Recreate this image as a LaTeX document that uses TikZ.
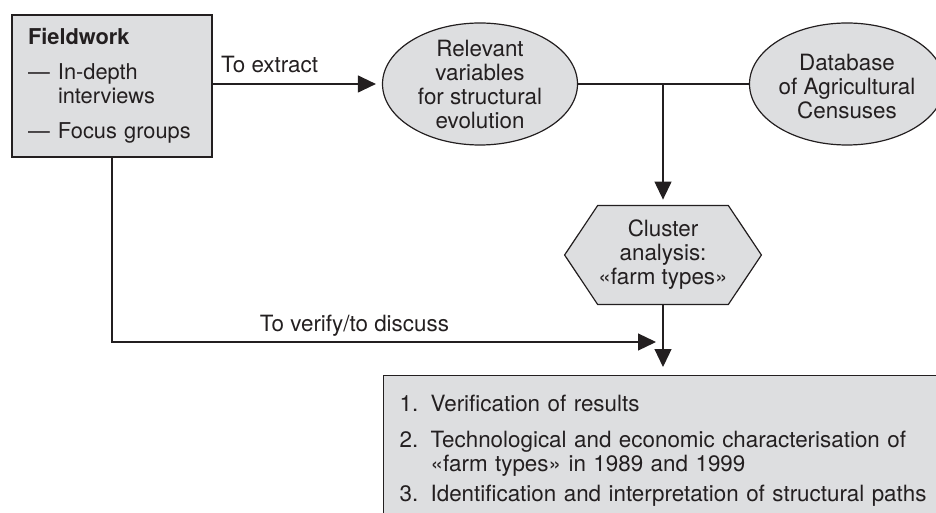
\documentclass[tikz,border=0pt]{standalone}
\usepackage{fontspec}
\setmainfont{TeX Gyre Heros}
\usetikzlibrary{arrows.meta,shapes.geometric,backgrounds}
\definecolor{boxgray}{RGB}{221,222,224}
\definecolor{inkgray}{RGB}{35,31,32}

\begin{document}
\begin{tikzpicture}[x=0.5pt,y=-0.5pt,
  font=\fontsize{11.2pt}{12pt}\selectfont,text=inkgray,
  every node/.style={inner sep=0pt},
  boxnode/.style={draw=inkgray,line width=0.6pt,fill=boxgray},
  oval/.style={boxnode,ellipse,minimum width=97.5pt,minimum height=61pt},
  link/.style={draw=inkgray,line width=0.6pt},
  arrowlink/.style={link,-{Triangle[length=9pt,width=8.5pt]},shorten >=3pt},
  linklabel/.style={inner sep=0pt}]
\useasboundingbox (0,0) rectangle (936,513);
\clip (0,0) rectangle (936,513);

\node[boxnode,minimum width=100pt,minimum height=71pt,text width=84pt,align=left,
  font=\fontsize{10.9pt}{12pt}\selectfont] (fieldwork) at (112,86)
  {\textbf{Fieldwork}\\[5.5pt]
   \makebox[15pt][l]{—}In-depth\\
   \hspace*{15pt}interviews\\[5.5pt]
   \makebox[15pt][l]{—}Focus groups};

\node[oval] (relevant) at (480,84) {};
\node[align=center] (relevanttext) at (480,85) {Relevant\\variables\\for structural\\evolution};
\node[oval] (database) at (847,84) {};
\node[align=center] (databasetext) at (847,87) {Database\\of Agricultural\\Censuses};

\node[minimum width=65pt,minimum height=49pt,align=center] (cluster) at (663,255)
  {Cluster\\analysis:\\«farm types»};
\begin{scope}[on background layer]
\draw[boxnode] (cluster.north west) -- (cluster.north east) -- ([xshift=16.5pt]cluster.east)
  -- (cluster.south east) -- (cluster.south west) -- ([xshift=-16.5pt]cluster.west) -- cycle;
\end{scope}

\node[boxnode,anchor=north west,text width=290pt,inner xsep=8pt,inner ysep=10pt,align=left] (results) at (383,375)
  {\makebox[15.5pt][l]{1.}Verification of results\\[6pt]
   \makebox[15.5pt][l]{2.}Technological and economic characterisation of\\
   \hspace*{15.5pt}«farm types» in 1989 and 1999\\[3pt]
   \makebox[15.5pt][l]{3.}Identification and interpretation of structural paths};

\coordinate (join) at (relevant.east -| cluster.north);
\coordinate (meet) at (663,342);

\draw[arrowlink] (fieldwork.east |- relevant.west) -- (relevant.west)
  node[linklabel,pos=0,above right,xshift=4pt,yshift=5.5pt] {To extract};
\draw[link] (relevant.east) -- (database.west);
\draw[arrowlink] (join) -- (cluster.north);
\draw[arrowlink,shorten >=4pt] (cluster.south) -- (cluster.south |- results.north);
\draw[arrowlink,shorten >=3.5pt] (fieldwork.south) |- (meet)
  node[linklabel,pos=0.72,above,yshift=2.7pt] {To verify/to discuss};
\end{tikzpicture}
\end{document}
